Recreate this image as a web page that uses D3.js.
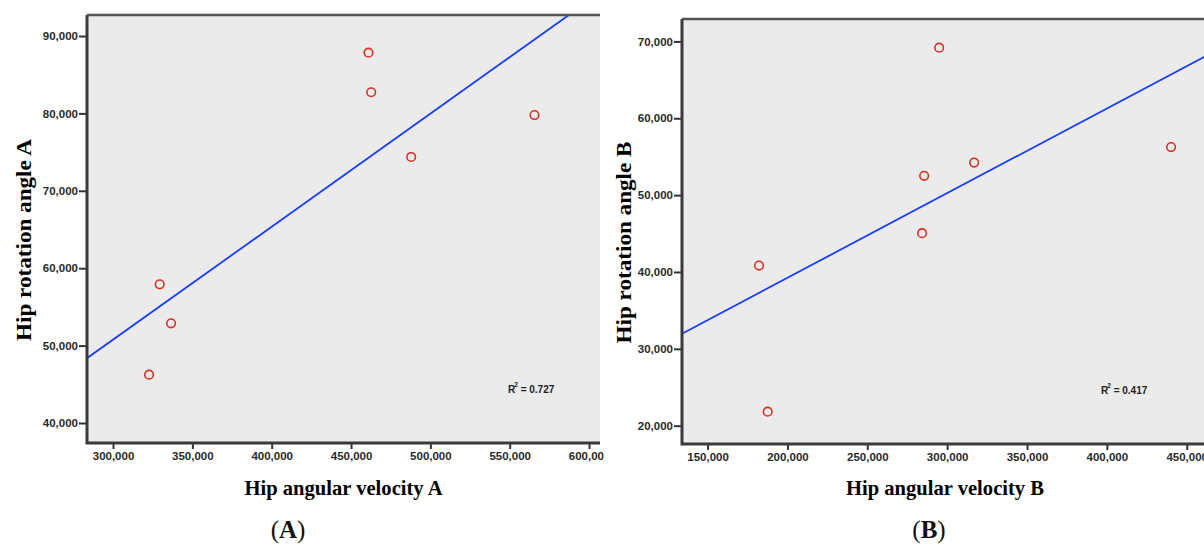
<!DOCTYPE html>
<html>
<head>
<meta charset="utf-8">
<script src="https://cdn.jsdelivr.net/npm/d3@7"></script>
<style>
  body { margin: 0; background: #fff; }
  svg { display: block; }
</style>
</head>
<body>
<svg width="1204" height="545"></svg>
<script>
// data
const velocityA = [329400, 336600, 322700, 461000, 462700, 487900, 565600];
const angleA    = [57920, 52880, 46240, 87840, 82730, 74370, 79790];
const velocityB = [182200, 187600, 295000, 285600, 284300, 316900, 440200];
const angleB    = [40830, 21820, 69180, 52510, 45050, 54240, 56250];

const xTicksA = [300000, 350000, 400000, 450000, 500000, 550000, 600000];
const yTicksA = [40000, 50000, 60000, 70000, 80000, 90000];
const xTicksB = [150000, 200000, 250000, 300000, 350000, 400000, 450000];
const yTicksB = [20000, 30000, 40000, 50000, 60000, 70000];

const r2Labels = ["0.727", "0.417"];

const svg = d3.select("svg");
const fmt = d3.format(",");

// pannelli: posizione e dominio degli assi
const panels = [
  {
    id: "A", xs: velocityA, ys: angleA, xTicks: xTicksA, yTicks: yTicksA, r2: r2Labels[0],
    left: 87, top: 15, right: 600, bottom: 443,
    xDomain: [283600, 606900], yDomain: [37416, 92713],
    xTitle: "Hip angular velocity A", yTitle: "Hip rotation angle A",
    yTitleX: 31, tag: "(A)", tagX: 288, clipRight: 604,
    r2x: 508, r2y: 393
  },
  {
    id: "B", xs: velocityB, ys: angleB, xTicks: xTicksB, yTicks: yTicksB, r2: r2Labels[1],
    left: 682, top: 19, right: 1208, bottom: 444,
    xDomain: [133980, 463330], yDomain: [17617, 72917],
    xTitle: "Hip angular velocity B", yTitle: "Hip rotation angle B",
    yTitleX: 631, tag: "(B)", tagX: 929, clipRight: 1204,
    r2x: 1101, r2y: 394
  }
];

const defs = svg.append("defs");

panels.forEach(p => drawPanel(p));

function drawPanel(p) {
  const x = d3.scaleLinear().domain(p.xDomain).range([p.left, p.right]);
  const y = d3.scaleLinear().domain(p.yDomain).range([p.bottom, p.top]);

  // clip per il pannello intero (taglio come nella figura) e per l'area del grafico
  defs.append("clipPath").attr("id", "panel-" + p.id)
    .append("rect").attr("x", p.left - 100).attr("y", 0)
    .attr("width", p.clipRight - p.left + 100).attr("height", 545);
  defs.append("clipPath").attr("id", "plot-" + p.id)
    .append("rect").attr("x", p.left).attr("y", p.top)
    .attr("width", p.right - p.left).attr("height", p.bottom - p.top);

  const g = svg.append("g").attr("clip-path", `url(#panel-${p.id})`);

  // sfondo grigio
  g.append("rect")
    .attr("x", p.left).attr("y", p.top)
    .attr("width", p.right - p.left).attr("height", p.bottom - p.top)
    .attr("fill", "#ebebeb");

  // retta di regressione (minimi quadrati)
  const mx = d3.mean(p.xs), my = d3.mean(p.ys);
  const sxy = d3.sum(p.xs, (v, i) => (v - mx) * (p.ys[i] - my));
  const sxx = d3.sum(p.xs, v => (v - mx) * (v - mx));
  const slope = sxy / sxx;
  const intercept = my - slope * mx;

  g.append("line")
    .attr("clip-path", `url(#plot-${p.id})`)
    .attr("x1", x(p.xDomain[0])).attr("y1", y(intercept + slope * p.xDomain[0]))
    .attr("x2", x(p.xDomain[1])).attr("y2", y(intercept + slope * p.xDomain[1]))
    .attr("stroke", "#1b3ff5")
    .attr("stroke-width", 1.8);

  // punti
  g.selectAll(".pt")
    .data(p.xs.map((v, i) => ({ x: v, y: p.ys[i] })))
    .join("circle")
    .attr("class", "pt")
    .attr("cx", d => x(d.x))
    .attr("cy", d => y(d.y))
    .attr("r", 4.3)
    .attr("fill", "none")
    .attr("stroke", "#d7301f")
    .attr("stroke-width", 1.6);

  // assi
  const xAxis = d3.axisBottom(x).tickValues(p.xTicks).tickFormat(fmt).tickSize(6).tickPadding(3);
  const yAxis = d3.axisLeft(y).tickValues(p.yTicks).tickFormat(fmt).tickSize(8).tickPadding(1);

  const gx = g.append("g").attr("transform", `translate(0,${p.bottom})`).call(xAxis);
  const gy = g.append("g").attr("transform", `translate(${p.left},0)`).call(yAxis);
  [gx, gy].forEach(a => {
    a.select(".domain").remove();
    a.selectAll(".tick line").attr("stroke", "#333").attr("stroke-width", 2);
    a.selectAll(".tick text")
      .attr("fill", "#2a2a2a")
      .attr("font-family", "'Liberation Sans', Arial, sans-serif")
      .attr("font-weight", "bold")
      .attr("font-size", "11.5px");
  });

  // cornice: sinistra, basso, alto
  g.append("path")
    .attr("d", `M${p.left},${p.top}V${p.bottom}H${p.right}`)
    .attr("fill", "none").attr("stroke", "#3a3a3a").attr("stroke-width", 3);
  g.append("line")
    .attr("x1", p.left).attr("x2", p.right)
    .attr("y1", p.top).attr("y2", p.top)
    .attr("stroke", "#555").attr("stroke-width", 2.5);

  // etichetta R²
  const r2 = g.append("text")
    .attr("x", p.r2x).attr("y", p.r2y)
    .attr("font-family", "'Liberation Sans', Arial, sans-serif")
    .attr("font-size", "10px")
    .attr("font-weight", "bold")
    .attr("fill", "#222");
  r2.append("tspan").text("R");
  r2.append("tspan").attr("dx", -1).attr("dy", -6).attr("font-size", "6.5px").text("2");
  r2.append("tspan").attr("dy", 6).text(" = " + p.r2);

  // titoli degli assi
  const cx = (p.left + p.right) / 2;
  const cy = (p.top + p.bottom) / 2 + 11;
  g.append("text")
    .attr("x", cx).attr("y", 495)
    .attr("text-anchor", "middle")
    .attr("font-family", "'Liberation Serif', 'DejaVu Serif', serif")
    .attr("font-weight", "bold")
    .attr("font-size", "21px")
    .attr("textLength", 198)
    .attr("lengthAdjust", "spacingAndGlyphs")
    .text(p.xTitle);

  svg.append("text")
    .attr("transform", `translate(${p.yTitleX},${cy}) rotate(-90)`)
    .attr("text-anchor", "middle")
    .attr("font-family", "'Liberation Serif', 'DejaVu Serif', serif")
    .attr("font-weight", "bold")
    .attr("font-size", "21px")
    .attr("textLength", 202)
    .attr("lengthAdjust", "spacingAndGlyphs")
    .text(p.yTitle);

  // (A) / (B)
  const tag = svg.append("text")
    .attr("x", p.tagX).attr("y", 538)
    .attr("text-anchor", "middle")
    .attr("font-family", "'Liberation Serif', 'DejaVu Serif', serif")
    .attr("font-size", "25px")
    .attr("fill", "#111");
  tag.append("tspan").text("(");
  tag.append("tspan").attr("font-weight", "bold").text(p.id);
  tag.append("tspan").text(")");
}
</script>
</body>
</html>
